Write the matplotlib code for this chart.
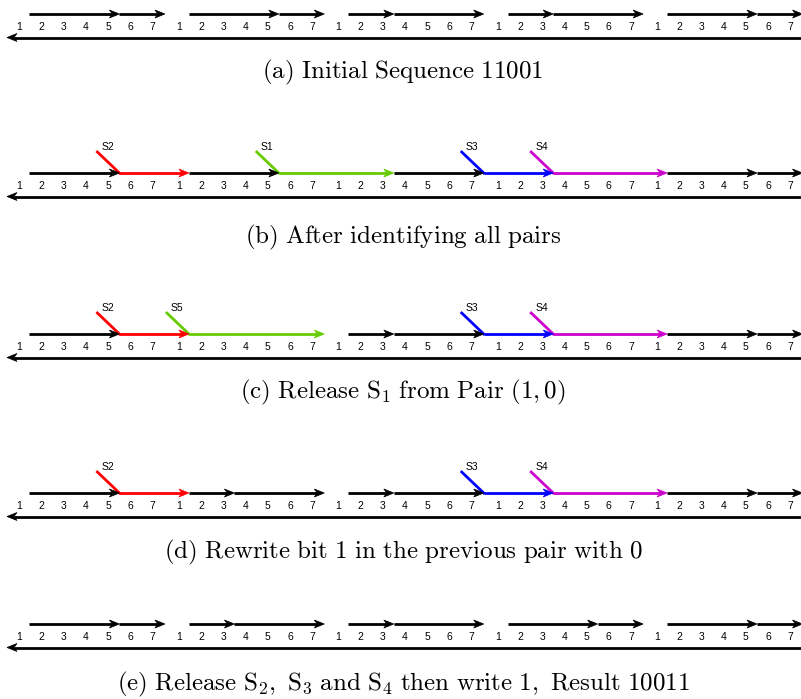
import matplotlib.pyplot as plt
from matplotlib.patches import Polygon

plt.rcParams['mathtext.fontset'] = 'cm'

# --- data ---
slot_labels = ['1', '2', '3', '4', '5', '6', '7']
n_groups = 5

bits_a = [1, 1, 0, 0, 1]
bits_e = [1, 0, 0, 1, 1]

# segments: (colour, from (group, point), to (group, point), pair label)
segs_b = [
    ('black',   (0, 'start'), (0, 'mid1'), None),
    ('#ff0000', (0, 'mid1'),  (1, 'start'), 'S2'),
    ('black',   (1, 'start'), (1, 'mid1'), None),
    ('#66cc00', (1, 'mid1'),  (2, 'mid0'), 'S1'),
    ('black',   (2, 'mid0'),  (2, 'end'), None),
    ('#0000ff', (2, 'end'),   (3, 'mid0'), 'S3'),
    ('#cc00cc', (3, 'mid0'),  (4, 'start'), 'S4'),
    ('black',   (4, 'start'), (4, 'mid1'), None),
    ('black',   (4, 'mid1'),  (4, 'end'), None),
]
segs_c = [
    ('black',   (0, 'start'), (0, 'mid1'), None),
    ('#ff0000', (0, 'mid1'),  (1, 'start'), 'S2'),
    ('#66cc00', (1, 'start'), (1, 'end'), 'S5'),
    ('black',   (2, 'start'), (2, 'mid0'), None),
    ('black',   (2, 'mid0'),  (2, 'end'), None),
    ('#0000ff', (2, 'end'),   (3, 'mid0'), 'S3'),
    ('#cc00cc', (3, 'mid0'),  (4, 'start'), 'S4'),
    ('black',   (4, 'start'), (4, 'mid1'), None),
    ('black',   (4, 'mid1'),  (4, 'end'), None),
]
segs_d = [
    ('black',   (0, 'start'), (0, 'mid1'), None),
    ('#ff0000', (0, 'mid1'),  (1, 'start'), 'S2'),
    ('black',   (1, 'start'), (1, 'mid0'), None),
    ('black',   (1, 'mid0'),  (1, 'end'), None),
    ('black',   (2, 'start'), (2, 'mid0'), None),
    ('black',   (2, 'mid0'),  (2, 'end'), None),
    ('#0000ff', (2, 'end'),   (3, 'mid0'), 'S3'),
    ('#cc00cc', (3, 'mid0'),  (4, 'start'), 'S4'),
    ('black',   (4, 'start'), (4, 'mid1'), None),
    ('black',   (4, 'mid1'),  (4, 'end'), None),
]

captions = [
    r'$\mathrm{(a)\ Initial\ Sequence\ 11001}$',
    r'$\mathrm{(b)\ After\ identifying\ all\ pairs}$',
    r'$\mathrm{(c)\ Release\ S_1\ from\ Pair\ }(1,0)$',
    r'$\mathrm{(d)\ Rewrite\ bit\ 1\ in\ the\ previous\ pair\ with\ 0}$',
    r'$\mathrm{(e)\ Release\ S_2,\ S_3\ and\ S_4\ then\ write\ 1,\ Result\ 10011}$',
]

# --- layout (pixels) ---
x0, slot_w, group_w = 19.5, 22.2, 159.4
point_slot = {'start': 0.45, 'mid0': 2.5, 'mid1': 4.5, 'end': 6.55}
row_y = [14, 173, 334, 493, 624]
cap_y = [72, 237, 392, 552, 684]
lw = 2.0
head_len, head_w = 10, 8


def px(group, point):
    return x0 + group * group_w + point_slot[point] * slot_w


def bits_to_segs(bits):
    segs = []
    for g, b in enumerate(bits):
        m = 'mid1' if b == 1 else 'mid0'
        segs.append(('black', (g, 'start'), (g, m), None))
        segs.append(('black', (g, m), (g, 'end'), None))
    return segs


def arrow(ax, xa, xb, y, color):
    d = 1 if xb > xa else -1
    notch = xb - d * head_len * 0.7
    ax.plot([xa, notch], [y, y], color=color, lw=lw, solid_capstyle='butt', zorder=2)
    head = Polygon([[xb, y], [xb - d * head_len, y - head_w / 2],
                    [notch, y], [xb - d * head_len, y + head_w / 2]],
                   closed=True, facecolor=color, edgecolor=color, lw=0.5, zorder=3)
    ax.add_patch(head)


fig = plt.figure(figsize=(8.01, 6.99), dpi=100)
ax = fig.add_axes([0, 0, 1, 1])
ax.set_xlim(0, 801)
ax.set_ylim(699, 0)
ax.axis('off')

rows = [bits_to_segs(bits_a), segs_b, segs_c, segs_d, bits_to_segs(bits_e)]

for r, segs in enumerate(rows):
    y = row_y[r]
    for color, (ga, pa), (gb, pb), label in segs:
        xa, xb = px(ga, pa), px(gb, pb)
        arrow(ax, xa, xb, y, color)
        if label is not None:
            ax.plot([xa - 22, xa], [y - 21, y], color=color, lw=lw, zorder=2)
            ax.text(xa - 18, y - 26, label, fontsize=7.5, family='Liberation Sans',
                    ha='left', va='center')
    # slot numbers
    for g in range(n_groups):
        for k, lab in enumerate(slot_labels):
            ax.text(x0 + g * group_w + k * slot_w, y + 13, lab, fontsize=7.5,
                    family='Liberation Sans', ha='center', va='center')
    # return arrow
    arrow(ax, 805, 7, y + 23.5, 'black')
    ax.text(403, cap_y[r], captions[r], fontsize=18, ha='center', va='center')

plt.savefig('out.png', dpi=100)
plt.close()
